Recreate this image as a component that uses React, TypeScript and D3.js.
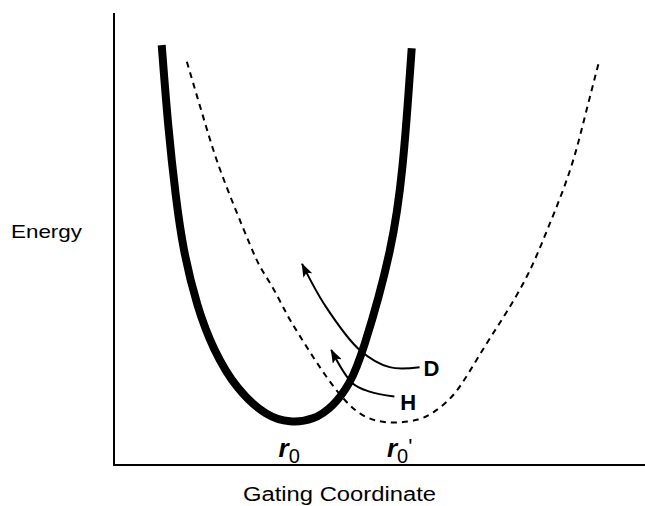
import { useEffect, useRef } from 'react';
import * as d3 from 'd3';

// Curvas de energia (coordenada de gating 0-100, energia 0-100)
const solidX = [9.07, 10.32, 11.73, 13.12, 15.78, 18.88, 23.33, 29.03, 33.46, 37.89, 41.69, 44.87, 47.09, 53.1, 55.0, 55.95, 56.6];
const solidY = [92.7, 74.0, 59.2, 47.5, 34.9, 25.4, 16.6, 10.7, 9.3, 9.9, 12.9, 18.0, 23.9, 48.2, 66.6, 81.3, 92.0];

const dashedX = [13.85, 17.5, 20.0, 26.0, 27.6, 30.2, 32.7, 34.6, 41.0, 46.0, 49.8, 53.7, 58.1, 60.6, 63.8, 66.3, 70.8, 74.6, 79.0, 82.2, 87.0, 89.5, 92.2];
const dashedY = [89.0, 74.7, 65.1, 48.2, 43.8, 39.4, 33.5, 29.8, 18.0, 11.4, 9.6, 9.2, 9.9, 11.4, 14.3, 18.0, 26.9, 33.5, 42.3, 51.4, 65.1, 76.9, 89.0];

// Setas D e H (do rótulo até a ponta)
const arrowDX = [58.1, 52.4, 46.7, 40.3, 35.75];
const arrowDY = [21.6, 21.6, 25.4, 34.9, 44.4];
const arrowHX = [53.3, 48.6, 45.4, 41.3];
const arrowHY = [15.1, 16.2, 18.0, 25.4];

const minima = [
  { label: 'r', sub: '0', prime: false, x: 33.3 },
  { label: 'r', sub: '0', prime: true, x: 54.3 },
];

const W = 645;
const H = 506;

function zip(xs: number[], ys: number[]): [number, number][] {
  return xs.map((x, i) => [x, ys[i]]);
}

export default function App() {
  const svgRef = useRef<SVGSVGElement | null>(null);

  useEffect(() => {
    if (!svgRef.current) return;
    const svg = d3.select(svgRef.current);
    svg.selectAll('*').remove();

    const x = d3.scaleLinear().domain([0, 100]).range([114, 640]);
    const y = d3.scaleLinear().domain([0, 100]).range([465, 12]);

    const font = '"Liberation Sans", Arial, Helvetica, sans-serif';

    svg.append('defs')
      .append('marker')
      .attr('id', 'head')
      .attr('viewBox', '0 0 14 10')
      .attr('refX', 13)
      .attr('refY', 5)
      .attr('markerWidth', 14)
      .attr('markerHeight', 10)
      .attr('markerUnits', 'userSpaceOnUse')
      .attr('orient', 'auto')
      .append('path')
      .attr('d', 'M0,0 L14,5 L0,10 L3,5 Z')
      .attr('fill', '#000');

    // Eixos
    svg.append('line')
      .attr('x1', x(0)).attr('x2', x(0))
      .attr('y1', 13).attr('y2', y(0) + 1)
      .attr('stroke', '#000').attr('stroke-width', 2);
    svg.append('line')
      .attr('x1', x(0) - 1).attr('x2', W)
      .attr('y1', y(0)).attr('y2', y(0))
      .attr('stroke', '#000').attr('stroke-width', 2);

    const smooth = d3.line<[number, number]>()
      .x(d => x(d[0]))
      .y(d => y(d[1]))
      .curve(d3.curveBasis);

    const arrowLine = d3.line<[number, number]>()
      .x(d => x(d[0]))
      .y(d => y(d[1]))
      .curve(d3.curveCatmullRom.alpha(0.5));

    // Curva tracejada
    svg.append('path')
      .attr('d', smooth(zip(dashedX, dashedY)))
      .attr('fill', 'none')
      .attr('stroke', '#000')
      .attr('stroke-width', 2)
      .attr('stroke-dasharray', '6,5');

    // Curva sólida
    svg.append('path')
      .attr('d', smooth(zip(solidX, solidY)))
      .attr('fill', 'none')
      .attr('stroke', '#000')
      .attr('stroke-width', 8)
      .attr('stroke-linecap', 'butt');

    // Setas
    [zip(arrowDX, arrowDY), zip(arrowHX, arrowHY)].forEach(pts => {
      svg.append('path')
        .attr('d', arrowLine(pts))
        .attr('fill', 'none')
        .attr('stroke', '#000')
        .attr('stroke-width', 2)
        .attr('marker-end', 'url(#head)');
    });

    svg.append('text')
      .attr('x', x(arrowDX[0]) + 4)
      .attr('y', y(arrowDY[0]) + 9)
      .attr('font-family', font)
      .attr('font-size', 22)
      .attr('font-weight', 700)
      .text('D');

    svg.append('text')
      .attr('x', x(arrowHX[0]) + 6)
      .attr('y', y(arrowHY[0]) + 13)
      .attr('font-family', font)
      .attr('font-size', 22)
      .attr('font-weight', 700)
      .text('H');

    // Rótulos dos mínimos
    minima.forEach(m => {
      const t = svg.append('text')
        .attr('x', x(m.x))
        .attr('y', 457)
        .attr('font-family', font)
        .attr('text-anchor', 'middle');
      t.append('tspan')
        .attr('font-size', 26)
        .attr('font-weight', 700)
        .attr('font-style', 'italic')
        .text(m.label);
      t.append('tspan')
        .attr('font-size', 20)
        .attr('dy', 6)
        .text(m.sub);
      if (m.prime) {
        t.append('tspan')
          .attr('font-size', 22)
          .attr('dy', -9)
          .text("'");
      }
    });

    // Títulos dos eixos
    svg.append('text')
      .attr('x', 11)
      .attr('y', 238)
      .attr('font-family', font)
      .attr('font-size', 19)
      .attr('textLength', 71)
      .attr('lengthAdjust', 'spacingAndGlyphs')
      .text('Energy');

    svg.append('text')
      .attr('x', 243)
      .attr('y', 501)
      .attr('font-family', font)
      .attr('font-size', 20)
      .attr('textLength', 193)
      .attr('lengthAdjust', 'spacingAndGlyphs')
      .text('Gating Coordinate');
  }, []);

  return (
    <svg
      ref={svgRef}
      width={W}
      height={H}
      style={{ position: 'absolute', left: 0, top: 0, background: '#fff' }}
    />
  );
}
